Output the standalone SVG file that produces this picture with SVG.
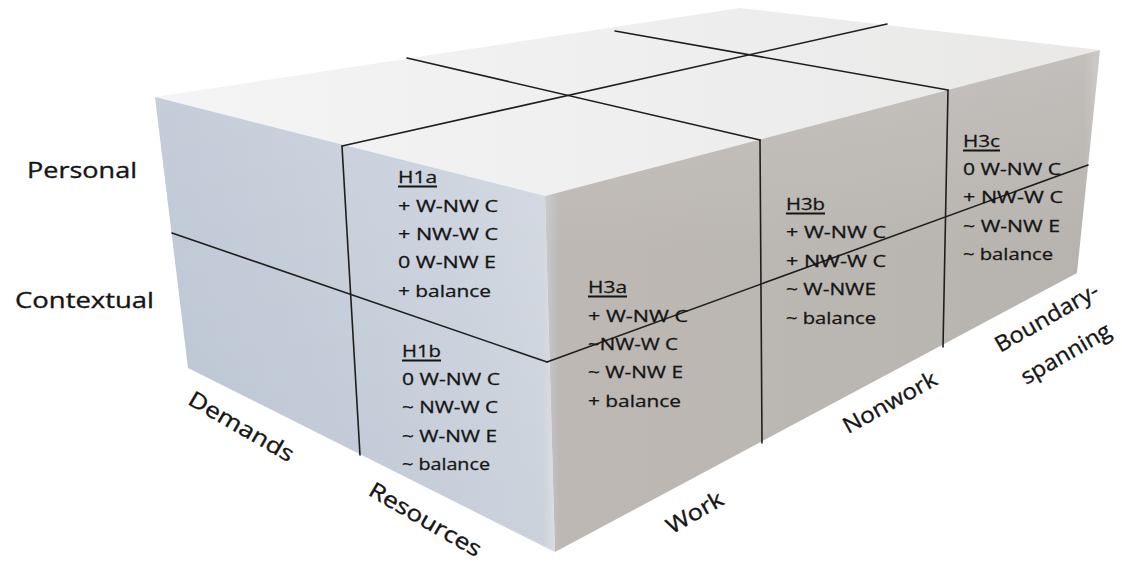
<svg xmlns="http://www.w3.org/2000/svg" width="1122" height="569" viewBox="0 0 1122 569">
  <defs>
    <linearGradient id="gTop" x1="0" y1="0" x2="1" y2="0">
      <stop offset="0" stop-color="#f4f4f5"/>
      <stop offset="0.5" stop-color="#efefef"/>
      <stop offset="1" stop-color="#e9e8e7"/>
    </linearGradient>
    <linearGradient id="gLeft" x1="0" y1="0" x2="1" y2="0">
      <stop offset="0" stop-color="#b8c2d1"/>
      <stop offset="0.6" stop-color="#c3cbd8"/>
      <stop offset="0.97" stop-color="#ccd2dc"/>
      <stop offset="1" stop-color="#d9dde4"/>
    </linearGradient>
    <linearGradient id="gLeftV" x1="0" y1="0" x2="0" y2="1">
      <stop offset="0" stop-color="#ffffff" stop-opacity="0.18"/>
      <stop offset="1" stop-color="#ffffff" stop-opacity="0"/>
    </linearGradient>
    <linearGradient id="gRight" x1="0" y1="0" x2="1" y2="0">
      <stop offset="0" stop-color="#c7cad0"/>
      <stop offset="0.025" stop-color="#bdb8b4"/>
      <stop offset="0.6" stop-color="#bab6b2"/>
      <stop offset="0.97" stop-color="#b7b3af"/>
      <stop offset="1" stop-color="#c4c1be"/>
    </linearGradient>
    <linearGradient id="gRightV" x1="0" y1="0" x2="0" y2="1">
      <stop offset="0" stop-color="#ffffff" stop-opacity="0.16"/>
      <stop offset="0.4" stop-color="#ffffff" stop-opacity="0"/>
    </linearGradient>
    <style>
      .grid { stroke: #1e1e1e; stroke-width: 1.6; fill: none; stroke-linecap: round; }
      .h { font-family: "Open Sans", "Liberation Sans", sans-serif; font-size: 17px; fill: #151515; stroke: #151515; stroke-width: 0.3; }
      .ax { font-family: "Open Sans", "Liberation Sans", sans-serif; font-size: 22px; fill: #151515; stroke: #151515; stroke-width: 0.35; }
      .ul { stroke: #151515; stroke-width: 1.8; }
    </style>
  </defs>
  <rect width="1122" height="569" fill="#ffffff"/>

  <g id="box">
    <polygon points="155,97 545,196 1100,50 740,8" fill="url(#gTop)"/>
    <polygon points="155,97 545,196 555,552 188,368" fill="url(#gLeft)"/>
    <polygon points="155,97 545,196 555,552 188,368" fill="url(#gLeftV)"/>
    <polygon points="545,196 1100,50 1077,273 555,552" fill="url(#gRight)"/>
    <polygon points="545,196 1100,50 1077,273 555,552" fill="url(#gRightV)"/>
  </g>

  <g id="connectors">
    <line class="grid" x1="342" y1="146" x2="887" y2="24"/>
    <line class="grid" x1="407" y1="58" x2="760" y2="140"/>
    <line class="grid" x1="615" y1="31" x2="948" y2="90"/>
    <line class="grid" x1="342" y1="146" x2="360" y2="455"/>
    <line class="grid" x1="172" y1="233" x2="547" y2="362"/>
    <line class="grid" x1="547" y1="362" x2="1088" y2="165"/>
    <line class="grid" x1="760" y1="140" x2="762" y2="443"/>
    <line class="grid" x1="948" y1="90" x2="943" y2="347"/>
  </g>

  <g id="row-labels">
    <text class="ax" x="27" y="178" textLength="110" lengthAdjust="spacingAndGlyphs">Personal</text>
    <text class="ax" x="15" y="308" textLength="139" lengthAdjust="spacingAndGlyphs">Contextual</text>
  </g>

  <g id="axis-labels" text-anchor="middle">
    <text class="ax" transform="translate(241,427) rotate(30)" x="0" y="7" textLength="118" lengthAdjust="spacingAndGlyphs">Demands</text>
    <text class="ax" transform="translate(425,520) rotate(30)" x="0" y="7" textLength="126" lengthAdjust="spacingAndGlyphs">Resources</text>
    <text class="ax" transform="translate(695,513) rotate(-30)" x="0" y="7" textLength="62" lengthAdjust="spacingAndGlyphs">Work</text>
    <text class="ax" transform="translate(890,403) rotate(-29)" x="0" y="7" textLength="104" lengthAdjust="spacingAndGlyphs">Nonwork</text>
    <text class="ax" transform="translate(1047,318) rotate(-30)" x="0" y="7" textLength="116" lengthAdjust="spacingAndGlyphs">Boundary-</text>
    <text class="ax" transform="translate(1066,354) rotate(-30)" x="0" y="7" textLength="100" lengthAdjust="spacingAndGlyphs">spanning</text>
  </g>

  <g id="H1a">
    <text class="h" x="398" y="183" textLength="39" lengthAdjust="spacingAndGlyphs">H1a</text>
    <line class="ul" x1="398" y1="186.5" x2="437" y2="186.5"/>
    <text class="h" x="398" y="212" textLength="100" lengthAdjust="spacingAndGlyphs">+ W-NW C</text>
    <text class="h" x="398" y="240" textLength="100" lengthAdjust="spacingAndGlyphs">+ NW-W C</text>
    <text class="h" x="398" y="268" textLength="98" lengthAdjust="spacingAndGlyphs">0 W-NW E</text>
    <text class="h" x="398" y="297" textLength="93" lengthAdjust="spacingAndGlyphs">+ balance</text>
  </g>

  <g id="H1b">
    <text class="h" x="402" y="357" textLength="39" lengthAdjust="spacingAndGlyphs">H1b</text>
    <line class="ul" x1="402" y1="360.5" x2="441" y2="360.5"/>
    <text class="h" x="402" y="385" textLength="98" lengthAdjust="spacingAndGlyphs">0 W-NW C</text>
    <text class="h" x="402" y="413" textLength="96" lengthAdjust="spacingAndGlyphs">~ NW-W C</text>
    <text class="h" x="402" y="442" textLength="95" lengthAdjust="spacingAndGlyphs">~ W-NW E</text>
    <text class="h" x="402" y="470" textLength="88" lengthAdjust="spacingAndGlyphs">~ balance</text>
  </g>

  <g id="H3a">
    <text class="h" x="588" y="293" textLength="39" lengthAdjust="spacingAndGlyphs">H3a</text>
    <line class="ul" x1="588" y1="296.5" x2="627" y2="296.5"/>
    <text class="h" x="588" y="322" textLength="100" lengthAdjust="spacingAndGlyphs">+ W-NW C</text>
    <text class="h" x="588" y="350" textLength="90" lengthAdjust="spacingAndGlyphs">~NW-W C</text>
    <text class="h" x="588" y="378" textLength="95" lengthAdjust="spacingAndGlyphs">~ W-NW E</text>
    <text class="h" x="588" y="407" textLength="93" lengthAdjust="spacingAndGlyphs">+ balance</text>
  </g>

  <g id="H3b">
    <text class="h" x="786" y="210" textLength="39" lengthAdjust="spacingAndGlyphs">H3b</text>
    <line class="ul" x1="786" y1="213.5" x2="825" y2="213.5"/>
    <text class="h" x="786" y="238" textLength="100" lengthAdjust="spacingAndGlyphs">+ W-NW C</text>
    <text class="h" x="786" y="267" textLength="100" lengthAdjust="spacingAndGlyphs">+ NW-W C</text>
    <text class="h" x="786" y="295" textLength="90" lengthAdjust="spacingAndGlyphs">~ W-NWE</text>
    <text class="h" x="786" y="324" textLength="90" lengthAdjust="spacingAndGlyphs">~ balance</text>
  </g>

  <g id="H3c">
    <text class="h" x="963" y="147" textLength="37" lengthAdjust="spacingAndGlyphs">H3c</text>
    <line class="ul" x1="963" y1="150.5" x2="1000" y2="150.5"/>
    <text class="h" x="963" y="175" textLength="98" lengthAdjust="spacingAndGlyphs">0 W-NW C</text>
    <text class="h" x="963" y="203" textLength="100" lengthAdjust="spacingAndGlyphs">+ NW-W C</text>
    <text class="h" x="963" y="232" textLength="97" lengthAdjust="spacingAndGlyphs">~ W-NW E</text>
    <text class="h" x="963" y="260" textLength="90" lengthAdjust="spacingAndGlyphs">~ balance</text>
  </g>
</svg>
